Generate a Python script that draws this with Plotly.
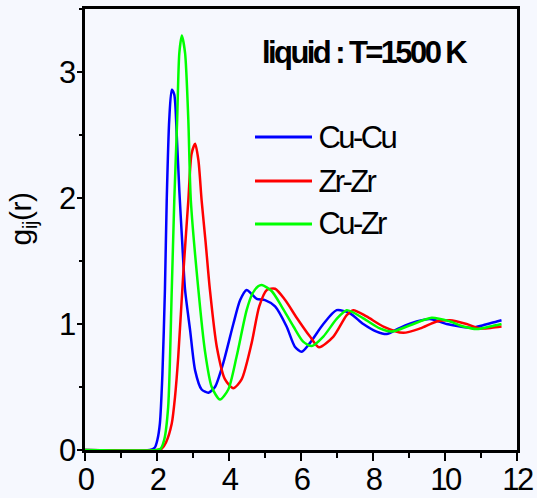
import plotly.graph_objects as go

# ---- data ----
r_cucu = [0, 1.80, 1.94, 2.01, 2.08, 2.15, 2.22, 2.27, 2.34, 2.41, 2.48, 2.55, 2.62, 2.70, 2.78, 2.92, 3.06,
          3.24, 3.43, 3.61, 3.84, 4.12, 4.31, 4.49, 4.62, 4.77, 5.00, 5.28, 5.60, 5.83, 6.02, 6.25, 6.62,
          6.99, 7.36, 7.73, 8.10, 8.38, 8.75, 9.21, 9.58, 10.05, 10.42, 10.74, 11.06, 11.44, 11.57]
g_cucu = [0, 0, 0.02, 0.08, 0.21, 0.60, 1.27, 1.98, 2.62, 2.86, 2.82, 2.49, 2.06, 1.65, 1.27, 0.95, 0.63,
          0.48, 0.455, 0.50, 0.69, 1.00, 1.19, 1.27, 1.24, 1.20, 1.19, 1.14, 0.98, 0.82, 0.78, 0.85, 1.00,
          1.11, 1.085, 1.00, 0.94, 0.92, 0.97, 1.02, 1.04, 1.00, 0.98, 0.97, 0.99, 1.02, 1.03]

r_zrzr = [0, 2.00, 2.13, 2.25, 2.41, 2.50, 2.59, 2.73, 2.87, 2.96, 3.06, 3.15, 3.24, 3.35, 3.47, 3.66,
          3.89, 4.12, 4.35, 4.63, 4.84, 5.05, 5.28, 5.56, 5.88, 6.25, 6.50, 6.90, 7.27, 7.45, 7.82, 8.29,
          8.84, 9.31, 9.77, 10.14, 10.60, 10.97, 11.30, 11.57]
g_zrzr = [0, 0, 0.01, 0.06, 0.21, 0.42, 0.74, 1.40, 1.98, 2.35, 2.43, 2.30, 1.98, 1.65, 1.27, 0.82,
          0.56, 0.49, 0.56, 0.85, 1.14, 1.27, 1.28, 1.19, 1.05, 0.90, 0.815, 0.90, 1.07, 1.11, 1.06, 0.98,
          0.93, 0.965, 1.02, 1.03, 1.00, 0.965, 0.97, 0.98]

r_cuzr = [0, 2.00, 2.10, 2.20, 2.31, 2.41, 2.48, 2.56, 2.62, 2.69, 2.78, 2.87, 2.94, 3.15, 3.33, 3.52,
          3.75, 3.98, 4.21, 4.49, 4.65, 4.81, 4.91, 5.19, 5.46, 5.79, 6.06, 6.30, 6.62, 6.99, 7.27, 7.73,
          8.19, 8.52, 9.03, 9.63, 10.14, 10.51, 10.88, 11.25, 11.57]
g_cuzr = [0, 0, 0.01, 0.08, 0.34, 1.27, 1.98, 2.62, 3.15, 3.29, 3.15, 2.62, 1.98, 1.27, 0.79, 0.50,
          0.40, 0.48, 0.74, 1.11, 1.24, 1.30, 1.31, 1.26, 1.14, 0.98, 0.86, 0.825, 0.90, 1.04, 1.11, 1.045,
          0.965, 0.94, 0.99, 1.05, 1.02, 0.98, 0.96, 0.98, 1.00]

series_names = ["Cu-Cu", "Zr-Zr", "Cu-Zr"]
series_colors = ["#0000FF", "#FF0000", "#00FF00"]
series_r = [r_cucu, r_zrzr, r_cuzr]
series_g = [g_cucu, g_zrzr, g_cuzr]

x_ticks = [0, 2, 4, 6, 8, 10, 12]
y_ticks = [0, 1, 2, 3]
title_text = "<b>liquid : T=1500 K</b>"
y_title = "g<sub>ij</sub>(r)"

FONT = "Liberation Sans, Arial, sans-serif"
BG = "#F6F8FE"

fig = go.Figure()
for name, col, rr, gg in zip(series_names, series_colors, series_r, series_g):
    fig.add_trace(go.Scatter(x=rr, y=gg, mode="lines", name=name,
                             line=dict(color=col, width=2.5, shape="spline", smoothing=0.7),
                             showlegend=False))

fig.update_layout(
    width=537, height=498,
    margin=dict(l=85, r=20, t=9, b=48),
    paper_bgcolor=BG, plot_bgcolor=BG,
    font=dict(family=FONT, size=31, color="black"),
    xaxis=dict(range=[0, 12], tickvals=x_ticks, showgrid=False, zeroline=False, automargin=False,
               showline=True, linewidth=3, linecolor="black", mirror=True,
               ticks="outside", ticklen=8, tickwidth=2, tickcolor="black",
               minor=dict(dtick=1, ticks="outside", ticklen=5, tickwidth=2, tickcolor="black"),
               tickfont=dict(size=31), ticklabelstandoff=-8),
    yaxis=dict(range=[0, 3.5], tickvals=y_ticks, showgrid=False, zeroline=False, automargin=False,
               showline=True, linewidth=3, linecolor="black", mirror=True,
               ticks="outside", ticklen=5, tickwidth=2, tickcolor="black",
               minor=dict(dtick=0.5, ticks="outside", ticklen=3, tickwidth=2, tickcolor="black"),
               tickfont=dict(size=31), ticklabelstandoff=-3),
)

# title / axis label annotations
fig.add_annotation(xref="paper", yref="paper", x=(363.5 - 85) / 432, y=(450 - 52) / 441,
                   text=title_text, showarrow=False, font=dict(size=31, family=FONT),
                   xanchor="center", yanchor="middle")
fig.add_annotation(xref="paper", yref="paper", x=(22 - 85) / 432, y=(450 - 219) / 441,
                   text=y_title, showarrow=False, textangle=-90, font=dict(size=30, family=FONT),
                   xanchor="center", yanchor="middle")

# manual legend (paper coords)
leg_y = [137, 181, 224]
for name, col, py in zip(series_names, series_colors, leg_y):
    yp = (450 - py) / 441
    fig.add_shape(type="line", xref="paper", yref="paper",
                  x0=(255 - 85) / 432, x1=(312 - 85) / 432, y0=yp, y1=yp,
                  line=dict(color=col, width=3))
    fig.add_annotation(xref="paper", yref="paper", x=(310 - 85) / 432, y=yp,
                       text=name, showarrow=False, font=dict(size=31, family=FONT),
                       xanchor="left", yanchor="middle")

# condensed lettering like the reference (tight letter spacing)
post = """
var gd = document.getElementsByClassName('plotly-graph-div')[0];
function tighten(){
  gd.querySelectorAll('.xtick text, .ytick text').forEach(function(t){ t.style.letterSpacing='-2.5px'; });
  var anns = gd.querySelectorAll('.annotation-text');
  anns.forEach(function(t, i){ t.style.letterSpacing = (i === 1) ? '-0.5px' : '-2.6px'; });
}
tighten();
gd.on('plotly_afterplot', tighten);
"""

fig.write_html("out.html", post_script=post)
